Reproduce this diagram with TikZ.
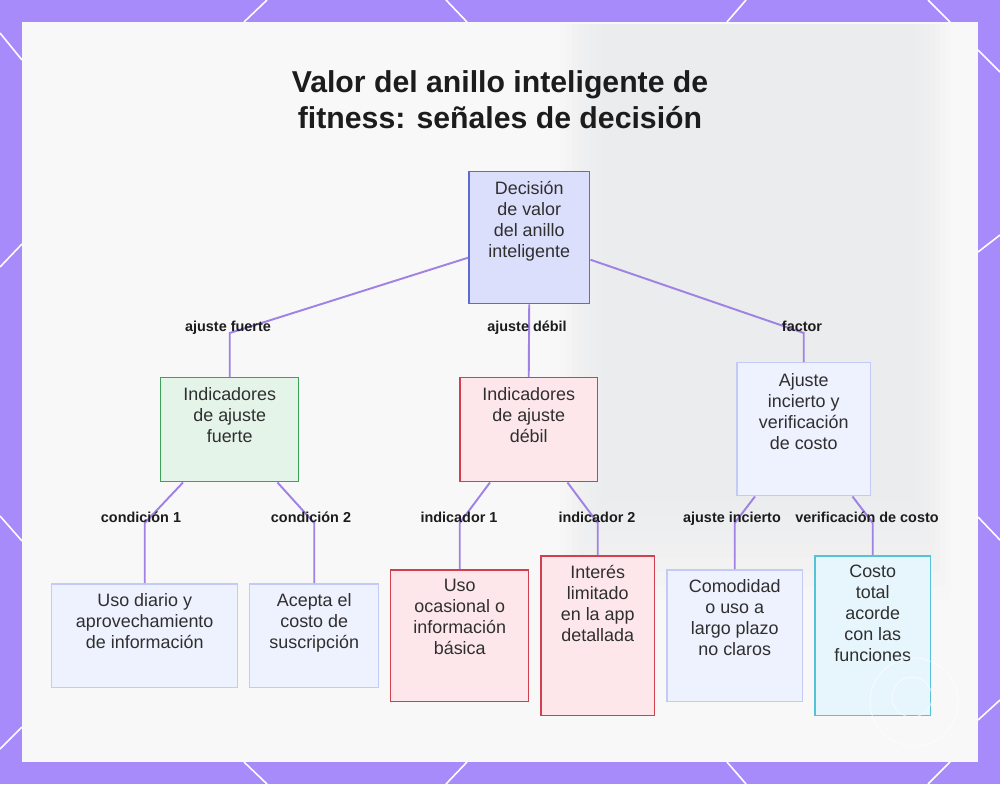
\documentclass[tikz,border=0pt]{standalone}
\usepackage{fontspec}
\setmainfont{Liberation Sans}
\usetikzlibrary{calc}
\definecolor{bgpurple}{HTML}{A78BFA}
\definecolor{panelc}{HTML}{F8F8F8}
\definecolor{shadec}{HTML}{E4E5E7}
\definecolor{edgec}{HTML}{9F82E4}
\definecolor{txtc}{HTML}{2F2F2F}
\definecolor{lblc}{HTML}{1C1C1C}
\definecolor{rootfill}{HTML}{DCDFFB}
\definecolor{rootdraw}{HTML}{5E6BCF}
\definecolor{greenfill}{HTML}{E5F4E9}
\definecolor{greendraw}{HTML}{3AA357}
\definecolor{redfill}{HTML}{FDE7EA}
\definecolor{reddraw}{HTML}{D23F4E}
\definecolor{lavfill}{HTML}{EEF1FE}
\definecolor{lavdraw}{HTML}{C3CAF5}
\definecolor{cyanfill}{HTML}{E7F6FD}
\definecolor{cyandraw}{HTML}{55C2D8}
\tikzset{
  boxshape/.style={draw, line width=0.85pt, inner sep=0pt, anchor=north west},
  rootbox/.style={boxshape, fill=rootfill, draw=rootdraw},
  greenbox/.style={boxshape, fill=greenfill, draw=greendraw},
  redbox/.style={boxshape, fill=redfill, draw=reddraw},
  lavbox/.style={boxshape, fill=lavfill, draw=lavdraw},
  cyanbox/.style={boxshape, fill=cyanfill, draw=cyandraw},
  txt/.style={font=\fontsize{10.2}{11.9}\selectfont, text=txtc, align=center, inner sep=0pt, anchor=north},
  lbl/.style={font=\bfseries\fontsize{8.2}{9}\selectfont, text=lblc, inner sep=0pt, anchor=base},
  edge/.style={draw=edgec, line width=1.1pt},
  deco/.style={draw=white, line width=0.9pt},
}
\begin{document}
\begin{tikzpicture}[x=0.02cm,y=-0.02cm]
\useasboundingbox (0,0) rectangle (1000,784);
% background
\fill[bgpurple] (0,0) rectangle (1000,784);
\draw[deco] (244,22) -- (267,0);
\draw[deco] (446,0) -- (467,22);
\draw[deco] (727,22) -- (746,0);
\draw[deco] (928,0) -- (950,22);
\draw[deco] (244,762) -- (267,784);
\draw[deco] (467,762) -- (446,784);
\draw[deco] (727,762) -- (746,784);
\draw[deco] (950,762) -- (928,784);
\draw[deco] (0,33) -- (22,60);
\draw[deco] (0,267) -- (22,244);
\draw[deco] (0,516) -- (22,541);
\draw[deco] (0,749) -- (22,727);
\draw[deco] (978,50) -- (1000,72);
\draw[deco] (978,252) -- (1000,235);
\draw[deco] (978,517) -- (1000,540);
\draw[deco] (978,720) -- (1000,700);
\fill[panelc] (22,22) rectangle (978,762);
\foreach \i in {0,...,7}
  \fill[shadec, opacity=0.09] (560+\i*6,24) rectangle (950-\i*5,600-\i*14);
% title
\node[font=\bfseries\fontsize{17.2}{20.4}\selectfont, text=lblc, align=center] (title) at (500,100)
  {Valor del anillo inteligente de\\fitness: señales de decisión};
% level 0
\node[rootbox, minimum width=2.42cm, minimum height=2.64cm] (r) at (468,171) {};
\node[txt] (rt) at ($(r.north)+(0,10)$) {Decisión\\de valor\\del anillo\\inteligente};
% level 1
\node[greenbox, minimum width=2.76cm, minimum height=2.08cm] (g) at (160,377) {};
\node[txt] (gt) at ($(g.north)+(0,10)$) {Indicadores\\de ajuste\\fuerte};
\node[redbox, minimum width=2.76cm, minimum height=2.08cm] (d) at (459,377) {};
\node[txt] (dt) at ($(d.north)+(0,10)$) {Indicadores\\de ajuste\\débil};
\node[lavbox, minimum width=2.68cm, minimum height=2.66cm] (i) at (736,362) {};
\node[txt] (it) at ($(i.north)+(0,11)$) {Ajuste\\incierto y\\verificación\\de costo};
% level 2
\node[lavbox, minimum width=3.72cm, minimum height=2.08cm] (ud) at (51,583) {};
\node[txt] (udt) at ($(ud.north)+(0,10)$) {Uso diario y\\aprovechamiento\\de información};
\node[lavbox, minimum width=2.58cm, minimum height=2.08cm] (ac) at (249,583) {};
\node[txt] (act) at ($(ac.north)+(0,10)$) {Acepta el\\costo de\\suscripción};
\node[redbox, minimum width=2.76cm, minimum height=2.64cm] (uo) at (390,569) {};
\node[txt] (uot) at ($(uo.north)+(0,10)$) {Uso\\ocasional o\\información\\básica};
\node[redbox, minimum width=2.28cm, minimum height=3.2cm] (in) at (540,555) {};
\node[txt] (intx) at ($(in.north)+(0,10)$) {Interés\\limitado\\en la app\\detallada};
\node[lavbox, minimum width=2.72cm, minimum height=2.64cm] (co) at (666,569) {};
\node[txt] (cot) at ($(co.north)+(0,10)$) {Comodidad\\o uso a\\largo plazo\\no claros};
\node[cyanbox, minimum width=2.32cm, minimum height=3.2cm] (cs) at (814,555) {};
\node[txt] (cst) at ($(cs.north)+(0,10)$) {Costo\\total\\acorde\\con las\\funciones};
% watermark circles
\draw[white, line width=0.5pt, opacity=0.6] (914,702) circle (44);
\draw[white, line width=0.5pt, opacity=0.6] (912,697) circle (20);
% bend heights
\coordinate (yA) at (0,333);
\coordinate (yB) at (0,523);
% edges level 1
\draw[edge] ($(r.west)+(0,20)$) -- (g.north |- yA) -- (g.north);
\draw[edge] (r.south) -- (d.north);
\draw[edge] ($(r.east)+(0,22)$) -- (i.north |- yA) -- (i.north);
% edges level 2
\draw[edge] ($(g.south west)+(23,0)$) -- (ud.north |- yB) -- (ud.north);
\draw[edge] ($(g.south east)+(-22,0)$) -- (ac.north |- yB) -- (ac.north);
\draw[edge] ($(d.south west)+(31,0)$) -- (uo.north |- yB) -- (uo.north);
\draw[edge] ($(d.south east)+(-31,0)$) -- (in.north |- yB) -- (in.north);
\draw[edge] ($(i.south west)+(19,0)$) -- (co.north |- yB) -- (co.north);
\draw[edge] ($(i.south east)+(-19,0)$) -- (cs.north |- yB) -- (cs.north);
% labels
\node[lbl] (l1) at (228,331) {ajuste fuerte};
\node[lbl] (l2) at (527,331) {ajuste débil};
\node[lbl] (l3) at (802,331) {factor};
\node[lbl] (l4) at (141,522) {condición 1};
\node[lbl] (l5) at (311,522) {condición 2};
\node[lbl] (l6) at (459,522) {indicador 1};
\node[lbl] (l7) at (597,522) {indicador 2};
\node[lbl] (l8) at (732,522) {ajuste incierto};
\node[lbl] (l9) at (867,522) {verificación de costo};
\end{tikzpicture}
\end{document}
